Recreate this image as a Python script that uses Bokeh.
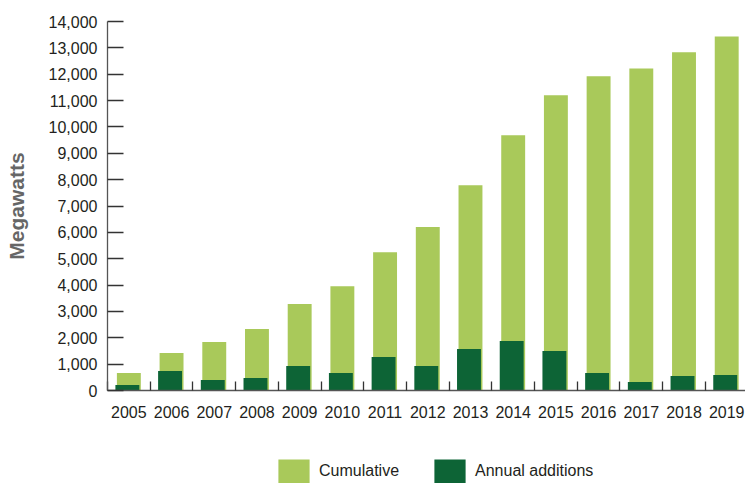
from bokeh.plotting import figure
from bokeh.layouts import column
from bokeh.models import (Range1d, FixedTicker, NumeralTickFormatter, Legend,
                          LegendItem, ColumnDataSource)
from bokeh.transform import dodge
from bokeh.embed import file_html
from bokeh.resources import INLINE

years = [2005, 2006, 2007, 2008, 2009, 2010, 2011, 2012, 2013, 2014,
         2015, 2016, 2017, 2018, 2019]
cumulative = [660, 1420, 1840, 2330, 3280, 3960, 5250, 6200, 7790, 9680,
              11200, 11920, 12220, 12830, 13430]
annual = [210, 740, 400, 475, 930, 665, 1270, 930, 1575, 1875,
          1500, 665, 320, 550, 590]
y_ticks = list(range(0, 14001, 1000))
series_names = ["Cumulative", "Annual additions"]

LIGHT = "#A9C95A"
DARK = "#0D6436"
FONT = "Liberation Sans"
TEXT = "#231F20"

src = ColumnDataSource(dict(year=years, cumulative=cumulative, annual=annual))

p = figure(width=745, height=430, output_backend="svg", toolbar_location=None,
           x_range=Range1d(2004.5, 2019.44), y_range=Range1d(0, 14000),
           min_border_left=107, min_border_right=0, min_border_top=21,
           min_border_bottom=40)
p.outline_line_color = None
p.xgrid.visible = False
p.ygrid.visible = False
p.background_fill_color = "white"
p.border_fill_color = "white"

r1 = p.vbar(x="year", top="cumulative", bottom=0, width=0.56, source=src,
            fill_color=LIGHT, line_color=None)
r2 = p.vbar(x=dodge("year", -0.035), top="annual", bottom=0, width=0.56,
            source=src, fill_color=DARK, line_color=None)

# y axis
ya = p.yaxis[0]
ya.ticker = FixedTicker(ticks=y_ticks)
ya.formatter = NumeralTickFormatter(format="0,0")
ya.major_tick_in = 16
ya.major_tick_out = 0
ya.minor_tick_line_color = None
ya.major_tick_line_color = "#333333"
ya.major_tick_line_width = 1.3
ya.axis_line_color = "#555555"
ya.axis_line_width = 1.3
ya.major_label_standoff = 10
ya.major_label_text_font = FONT
ya.major_label_text_font_size = "16px"
ya.major_label_text_color = TEXT
ya.axis_label = "Megawatts"
ya.axis_label_text_font = FONT
ya.axis_label_text_font_style = "bold"
ya.axis_label_text_font_size = "21px"
ya.axis_label_text_color = "#666666"
ya.axis_label_standoff = 18

# x axis
xa = p.xaxis[0]
xa.ticker = FixedTicker(ticks=years, minor_ticks=[y - 0.5 for y in years] + [2019.5])
xa.major_tick_in = 0
xa.major_tick_out = 0
xa.minor_tick_in = 9
xa.minor_tick_out = 0
xa.minor_tick_line_color = "#333333"
xa.minor_tick_line_width = 1.3
xa.axis_line_color = "#555555"
xa.axis_line_width = 1.3
xa.major_label_standoff = 15
xa.major_label_text_font = FONT
xa.major_label_text_font_size = "16px"
xa.major_label_text_color = TEXT

# legend strip below the chart
lf = figure(width=745, height=53, output_backend="svg", toolbar_location=None,
            x_range=Range1d(2004.5, 2019.44), y_range=Range1d(0, 14000),
            x_axis_type=None, y_axis_type=None,
            min_border_left=107, min_border_right=0, min_border_top=0,
            min_border_bottom=0)
lf.outline_line_color = None
lf.xgrid.visible = False
lf.ygrid.visible = False
lr1 = lf.vbar(x="year", top="cumulative", width=0.56, source=src,
              fill_color=LIGHT, line_color=None, visible=False)
lr2 = lf.vbar(x="year", top="annual", width=0.56, source=src,
              fill_color=DARK, line_color=None, visible=False)

legend = Legend(items=[LegendItem(label=series_names[0], renderers=[lr1]),
                       LegendItem(label=series_names[1], renderers=[lr2])],
                location=(167, -3), orientation="horizontal",
                glyph_width=39, glyph_height=30, label_standoff=6, spacing=31,
                padding=0, margin=0, border_line_color=None,
                background_fill_alpha=0, label_text_font=FONT,
                label_text_font_size="16px", label_text_color=TEXT,
                inactive_fill_alpha=0)
lf.add_layout(legend, "center")

layout = column(p, lf, spacing=0)
open("out.html", "w").write(file_html(layout, INLINE))
